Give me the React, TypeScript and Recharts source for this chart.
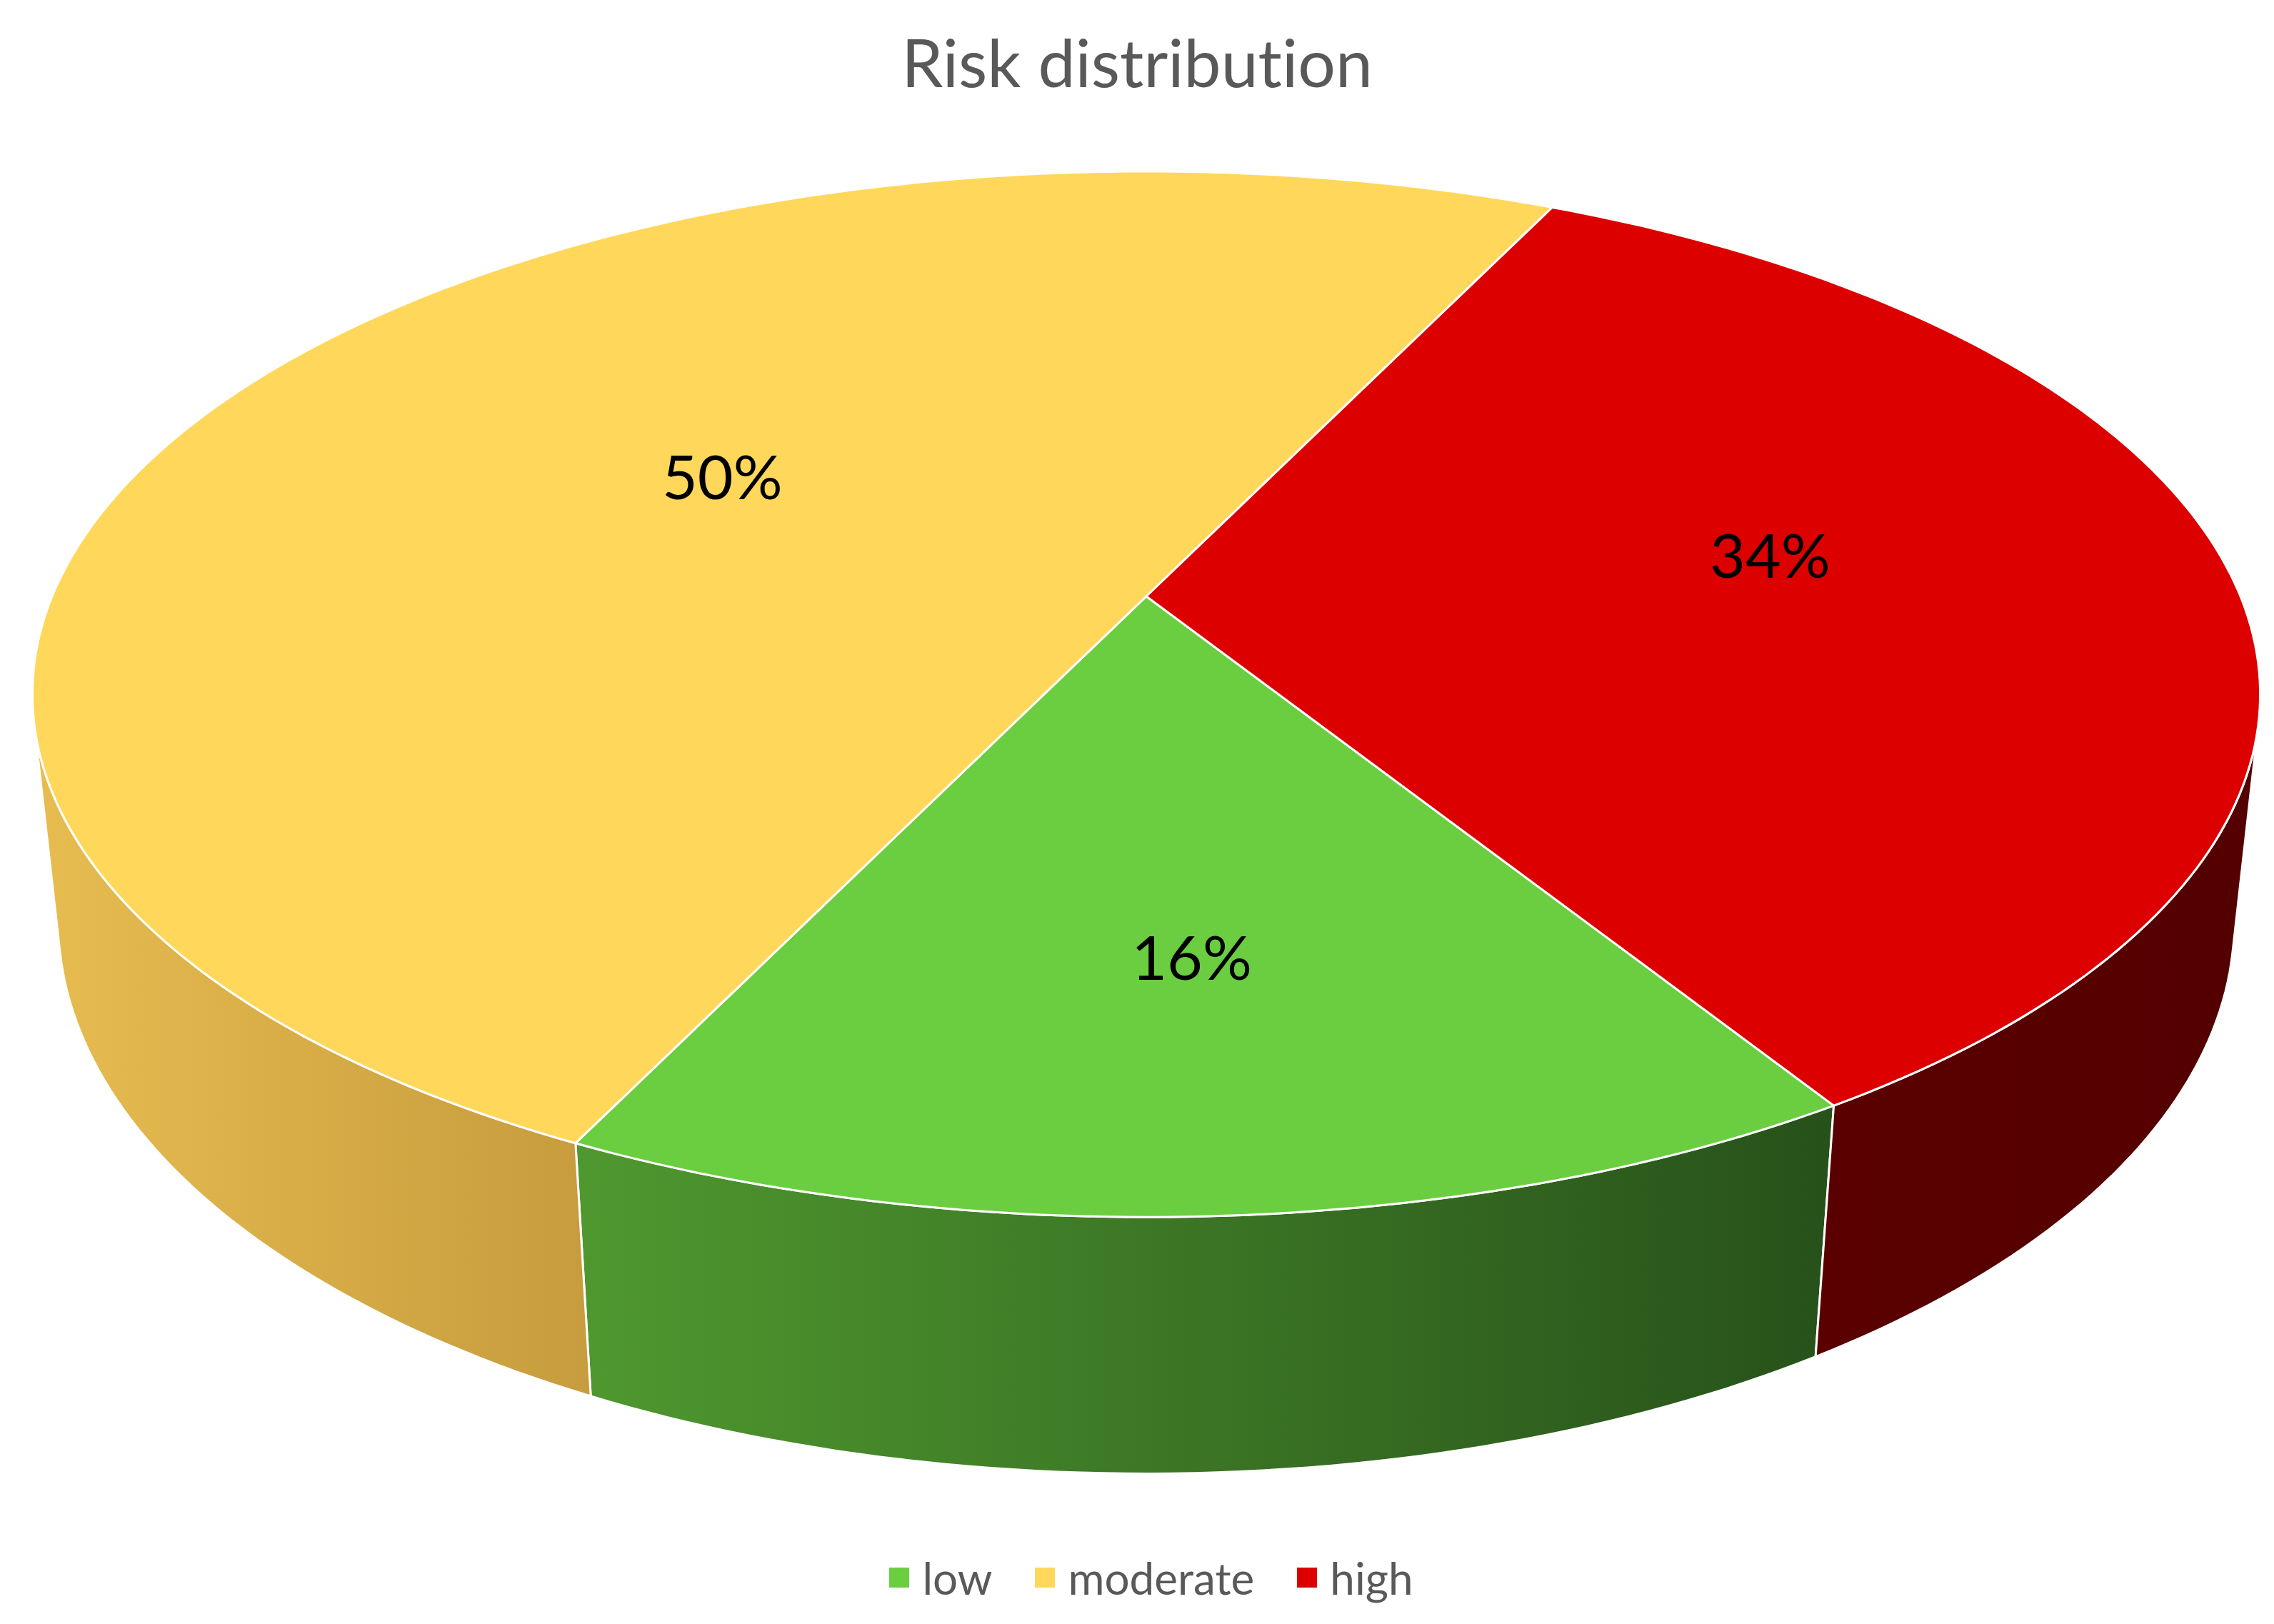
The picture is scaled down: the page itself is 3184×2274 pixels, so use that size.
import React from 'react';
import { PieChart, Pie, Cell, Legend } from 'recharts';

const categories = ['low', 'moderate', 'high'];
const shares = [16, 50, 34];
const topColors = ['#6ACE40', '#FFD75A', '#DC0000'];
const wallLight = ['#4F982F', '#E7BC50', '#5A0000'];
const wallDark = ['#27511A', '#C69C3E', '#540000'];

const data = categories.map((name, i) => ({ name, value: shares[i] }));

// simple perspective camera for the tilted disc (unit radius, outerRadius = pixel scale)
const DIST = 4.738;
const TILT_SIN = 0.4611;
const TILT_COS = 0.8873;
const THICK = 0.2355;
const RAD = Math.PI / 180;
const EDGE = Math.asin(1 / (DIST * TILT_COS)) / RAD;

const FONT = 'Lato, "Open Sans", sans-serif';

function project(cx: number, cy: number, k: number, deg: number, r: number, z: number) {
  const x = r * Math.cos(deg * RAD);
  const y = -r * Math.sin(deg * RAD);
  const up = -y * TILT_SIN + z * TILT_COS;
  const depth = DIST - (y * TILT_COS + z * TILT_SIN);
  return [cx + (k * DIST * x) / depth, cy - (k * DIST * up) / depth];
}

function arc(cx: number, cy: number, k: number, a0: number, a1: number, z: number) {
  const n = Math.max(2, Math.ceil(Math.abs(a1 - a0)));
  const pts: number[][] = [];
  for (let i = 0; i <= n; i++) pts.push(project(cx, cy, k, a0 + ((a1 - a0) * i) / n, 1, z));
  return pts;
}

const toPath = (pts: number[][]) => 'M' + pts.map((p) => `${p[0].toFixed(1)},${p[1].toFixed(1)}`).join('L') + 'Z';

const renderWall = (props: any) => {
  const { cx, cy, outerRadius, startAngle, endAngle, index } = props;
  const lo = Math.min(startAngle, endAngle);
  const hi = Math.max(startAngle, endAngle);
  const parts: number[][] = [];
  for (const shift of [-720, -360, 0, 360]) {
    const a = Math.max(lo + shift, -180 + EDGE);
    const b = Math.min(hi + shift, -EDGE);
    if (b > a) parts.push([a, b]);
  }
  return (
    <g key={`wall-${index}`}>
      {parts.map(([a, b], j) => {
        const pts = arc(cx, cy, outerRadius, a, b, 0).concat(arc(cx, cy, outerRadius, b, a, -THICK));
        const xs = pts.map((p) => p[0]);
        const id = `wall-grad-${index}-${j}`;
        return (
          <g key={j}>
            <defs>
              <linearGradient id={id} gradientUnits="userSpaceOnUse" x1={Math.min(...xs)} x2={Math.max(...xs)} y1={0} y2={0}>
                <stop offset="0" stopColor={wallLight[index]} />
                <stop offset="1" stopColor={wallDark[index]} />
              </linearGradient>
            </defs>
            <path d={toPath(pts)} fill={`url(#${id})`} stroke="#ffffff" strokeWidth={3} strokeLinejoin="round" />
          </g>
        );
      })}
    </g>
  );
};

const renderTop = (props: any) => {
  const { cx, cy, outerRadius, startAngle, endAngle, midAngle, percent, index } = props;
  const pts = [[cx, cy]].concat(arc(cx, cy, outerRadius, startAngle, endAngle, 0));
  const half = (Math.abs(endAngle - startAngle) * RAD) / 2;
  const rLabel = (1.05 * 2 * Math.sin(half)) / (3 * half);
  const [lx, ly] = project(cx, cy, outerRadius, midAngle, rLabel, 0);
  return (
    <g key={`top-${index}`}>
      <path d={toPath(pts)} fill={topColors[index]} stroke="#ffffff" strokeWidth={3} strokeLinejoin="round" />
      <text
        x={lx}
        y={ly - 38}
        textAnchor="middle"
        dominantBaseline="central"
        fontSize={86}
        fontFamily={FONT}
        fill="#000000"
      >
        {`${Math.round(percent * 100)}%`}
      </text>
    </g>
  );
};

const renderLegend = () => (
  <div
    style={{
      display: 'flex',
      justifyContent: 'center',
      alignItems: 'center',
      paddingLeft: 40,
      fontFamily: FONT,
      fontSize: 62,
      color: '#595959',
    }}
  >
    {categories.map((name, i) => (
      <div key={name} style={{ display: 'flex', alignItems: 'center', margin: '0 30px' }}>
        <span style={{ width: 28, height: 28, background: topColors[i], marginRight: 18, display: 'inline-block' }} />
        <span>{name}</span>
      </div>
    ))}
  </div>
);

export default function App() {
  return (
    <div style={{ position: 'absolute', left: 0, top: 0, width: 3184, height: 2274, background: '#ffffff' }}>
      <div
        style={{
          position: 'absolute',
          top: 40,
          left: 0,
          width: 3184,
          textAlign: 'center',
          fontFamily: FONT,
          fontSize: 93,
          lineHeight: 1,
          color: '#595959',
          fontVariantLigatures: 'none',
        }}
      >
        Risk distribution
      </div>
      <PieChart width={3184} height={2274} style={{ position: 'absolute', left: 0, top: 0 }}>
        <Pie
          data={data}
          dataKey="value"
          nameKey="name"
          cx={1600}
          cy={830}
          outerRadius={1532}
          startAngle={-58.1}
          endAngle={-418.1}
          stroke="none"
          fillOpacity={0}
          legendType="none"
          label={renderWall}
          labelLine={false}
          isAnimationActive={false}
        >
          {data.map((d, i) => (
            <Cell key={d.name} fill={topColors[i]} />
          ))}
        </Pie>
        <Pie
          data={data}
          dataKey="value"
          nameKey="name"
          cx={1600}
          cy={830}
          outerRadius={1532}
          startAngle={-58.1}
          endAngle={-418.1}
          stroke="none"
          fillOpacity={0}
          label={renderTop}
          labelLine={false}
          isAnimationActive={false}
        >
          {data.map((d, i) => (
            <Cell key={d.name} fill={topColors[i]} />
          ))}
        </Pie>
        <Legend content={renderLegend} wrapperStyle={{ left: 0, top: 2172, width: 3184 }} />
      </PieChart>
    </div>
  );
}
